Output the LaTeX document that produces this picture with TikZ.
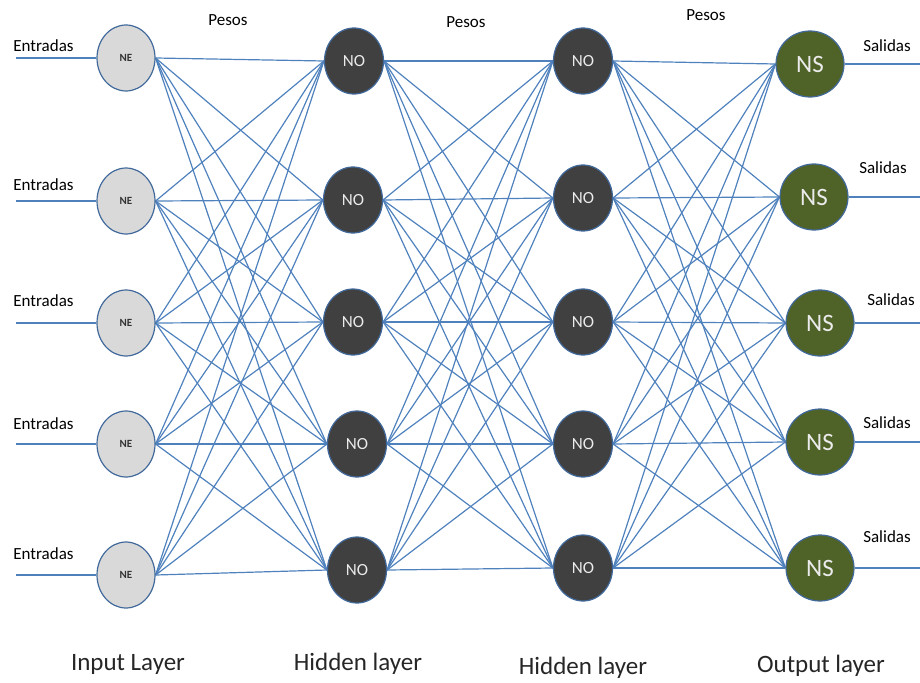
\documentclass[tikz,border=0pt]{standalone}
\usepackage{fontspec}
\setmainfont{Carlito}
\usetikzlibrary{shapes.geometric,backgrounds}
\definecolor{edgeblue}{RGB}{79,129,189}
\definecolor{rimblue}{RGB}{65,105,155}
\definecolor{nefill}{RGB}{217,217,217}
\definecolor{nofill}{RGB}{64,64,64}
\definecolor{nsfill}{RGB}{79,98,40}
\begin{document}
\begin{tikzpicture}[x=1pt,y=-1pt,
  wire/.style={draw=edgeblue,line width=1.2pt},
  neuron/.style={ellipse,draw=rimblue,line width=1.2pt,inner sep=0pt},
  nein/.style={neuron,fill=nefill,minimum width=58pt,minimum height=66pt,font=\fontsize{11}{11}\selectfont\bfseries,text=black!80},
  nohid/.style={neuron,fill=nofill,minimum width=59pt,minimum height=66pt,font=\fontsize{17}{17}\selectfont,text=white!92!black},
  nsout/.style={neuron,fill=nsfill,minimum width=68pt,minimum height=66pt,font=\fontsize{25}{25}\selectfont,text=white!92!black},
  lab/.style={font=\fontsize{17}{17}\selectfont,text=black,inner sep=0pt},
  layerlab/.style={font=\fontsize{25}{25}\selectfont,text=black!85,inner sep=0pt}]
\useasboundingbox (0,0) rectangle (920,682);
% neurons
\foreach \n/\x/\y in {1/126/58,2/126/201,3/126/323,4/126/444,5/126/575}
  \node[nein] (i\n) at (\x,\y) {NE};
\foreach \n/\x/\y in {1/354/61,2/353/200,3/353/322,4/357/444,5/357/570}
  \node[nohid] (h\n) at (\x,\y) {NO};
\foreach \n/\x/\y in {1/583/61,2/583/198,3/583/322,4/583/444,5/583/568}
  \node[nohid] (k\n) at (\x,\y) {NO};
\foreach \n/\x/\y in {1/810/64,2/814/197,3/820/323,4/820/442,5/820/568}
  \node[nsout] (o\n) at (\x,\y) {NS};
% free ends of input and output lines
\foreach \n/\y in {1/58,2/201,3/323,4/444,5/575}
  \coordinate (ein\n) at (16,\y);
\foreach \n/\y in {1/64,2/197,3/323,4/442,5/568}
  \coordinate (eout\n) at (920,\y);
% connectors
\begin{pgfonlayer}{background}
\foreach \a in {1,...,5}{
  \draw[wire] (ein\a) -- (i\a.west);
  \draw[wire] (o\a.east) -- (eout\a);
  \foreach \b in {1,...,5}{
    \draw[wire] (i\a.east) -- (h\b.west);
    \draw[wire] (h\a.east) -- (k\b.west);
    \draw[wire] (k\a.east) -- (o\b.west);
  }
}
\end{pgfonlayer}
% labels
\foreach \n/\y in {1/46,2/185,3/301,4/424,5/554}
  \node[lab] (ent\n) at (43.5,\y) {Entradas};
\node[lab] (sal1) at (887,46) {Salidas};
\node[lab] (sal2) at (883,168) {Salidas};
\node[lab] (sal3) at (891,300) {Salidas};
\node[lab] (sal4) at (887,423) {Salidas};
\node[lab] (sal5) at (887,537) {Salidas};
\node[lab] (pes1) at (228,20) {Pesos};
\node[lab] (pes2) at (466,22) {Pesos};
\node[lab] (pes3) at (706,15) {Pesos};
\node[layerlab] (L1) at (128,664) {Input Layer};
\node[layerlab] (L2) at (358,664) {Hidden layer};
\node[layerlab] (L3) at (583,668) {Hidden layer};
\node[layerlab] (L4) at (821,666) {Output layer};
\end{tikzpicture}
\end{document}
